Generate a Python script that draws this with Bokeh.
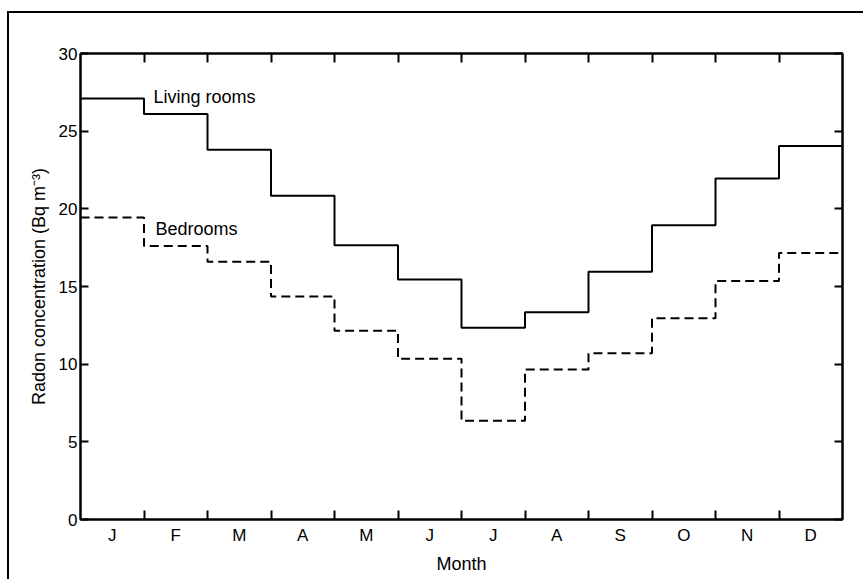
from bokeh.plotting import figure
from bokeh.models import FixedTicker, LinearAxis, Range1d, Label
from bokeh.embed import file_html
from bokeh.resources import INLINE

months = ["J", "F", "M", "A", "M", "J", "J", "A", "S", "O", "N", "D"]
living_rooms = [27.1, 26.1, 23.8, 20.85, 17.65, 15.45, 12.35, 13.35, 15.95, 18.95, 21.95, 24.05]
bedrooms = [19.45, 17.6, 16.6, 14.35, 12.15, 10.35, 6.35, 9.65, 10.7, 12.95, 15.35, 17.15]
y_ticks = [0, 5, 10, 15, 20, 25, 30]

FONT = "Liberation Sans"

W, H = 863, 579
p = figure(width=W, height=H, output_backend="svg", toolbar_location=None,
           x_range=Range1d(0, 12), y_range=Range1d(0, 30),
           min_border_left=80, min_border_top=53,
           min_border_right=W - 842, min_border_bottom=H - 519)
p.background_fill_color = "white"
p.border_fill_color = None
# outer figure frame: left and top edges (drawn as CSS background of the host element)
p.styles = {
    "background": ("linear-gradient(#000, #000) 7px 11px / 2px 100% no-repeat, "
                   "linear-gradient(#000, #000) 7px 11px / 100% 2px no-repeat, #fff"),
}
p.grid.visible = False
p.outline_line_color = "black"
p.outline_line_width = 2

centers = [i + 0.5 for i in range(12)]
bounds = list(range(1, 12))
overrides = {c: m for c, m in zip(centers, months)}

xa = p.xaxis[0]
xa.ticker = FixedTicker(ticks=centers, minor_ticks=bounds)
xa.major_label_overrides = overrides
xa.major_tick_in = 0
xa.major_tick_out = 0
xa.minor_tick_in = 9
xa.minor_tick_out = 0
xa.minor_tick_line_width = 2
xa.axis_line_width = 2
xa.major_label_standoff = 6
xa.major_label_text_font = FONT
xa.major_label_text_font_size = "17px"
xa.major_label_text_color = "black"
xa.axis_label = "Month"
xa.axis_label_text_font = FONT
xa.axis_label_text_font_size = "18px"
xa.axis_label_text_font_style = "normal"
xa.axis_label_text_color = "black"
xa.axis_label_standoff = 6

top = LinearAxis(ticker=FixedTicker(ticks=[], minor_ticks=bounds),
                 minor_tick_in=9, minor_tick_out=0, minor_tick_line_width=2,
                 major_tick_in=0, major_tick_out=0, axis_line_width=2)
p.add_layout(top, "above")

ya = p.yaxis[0]
ya.ticker = FixedTicker(ticks=y_ticks, minor_ticks=[])
ya.major_tick_in = 8
ya.major_tick_out = 0
ya.major_tick_line_width = 2
ya.axis_line_width = 2
ya.major_label_standoff = 3
ya.major_label_text_font = FONT
ya.major_label_text_font_size = "17px"
ya.major_label_text_color = "black"
ya.axis_label = "Radon concentration (Bq m\u207b\u00b3)"
ya.axis_label_text_font = FONT
ya.axis_label_text_font_size = "18px"
ya.axis_label_text_font_style = "normal"
ya.axis_label_text_color = "black"
ya.axis_label_standoff = 7

right = LinearAxis(ticker=FixedTicker(ticks=y_ticks, minor_ticks=[]),
                   major_label_overrides={t: "" for t in y_ticks},
                   major_tick_in=8, major_tick_out=0, major_tick_line_width=2, axis_line_width=2,
                   major_label_standoff=0)
p.add_layout(right, "right")

xs = list(range(13))
p.step(xs, living_rooms + [living_rooms[-1]], mode="after", line_color="black", line_width=2)
p.step(xs, bedrooms + [bedrooms[-1]], mode="after", line_color="black", line_width=2, line_dash="9 5")

p.add_layout(Label(x=1.15, y=27.17, text="Living rooms", text_baseline="middle",
                   text_font=FONT, text_font_size="18px", text_color="black"))
p.add_layout(Label(x=1.18, y=18.72, text="Bedrooms", text_baseline="middle",
                   text_font=FONT, text_font_size="18px", text_color="black"))

open("out.html", "w").write(file_html(p, INLINE))
